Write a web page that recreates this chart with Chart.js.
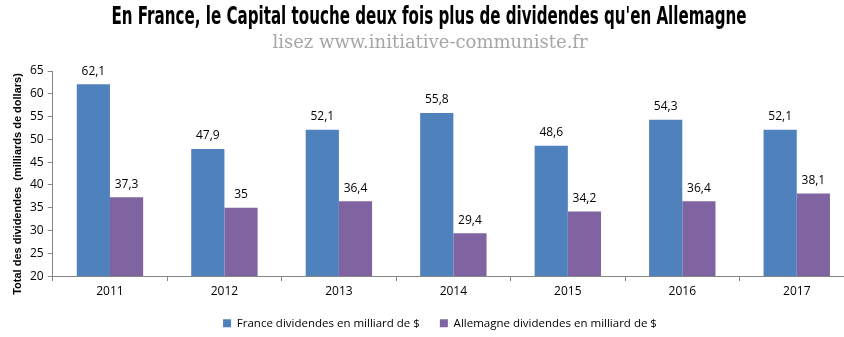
<!DOCTYPE html>
<html><head><meta charset="utf-8">
<script src="https://cdn.jsdelivr.net/npm/chart.js@4/dist/chart.umd.min.js"></script>
<style>
html,body{margin:0;padding:0;background:#fff;overflow:hidden;width:844px;height:337px;position:relative}
canvas{display:block;position:absolute;left:0;top:0}
#t{position:absolute;left:429px;top:2px;white-space:nowrap;z-index:2;font-family:"DejaVu Sans Condensed","DejaVu Sans",sans-serif;font-weight:bold;font-size:24px;line-height:28px;color:#000;transform:translateX(-50%) scaleX(0.70)}
#s{position:absolute;left:0;width:860px;top:31px;text-align:center;white-space:nowrap;font-family:"DejaVu Serif",serif;font-size:18px;line-height:22px;color:#a6a6a6;z-index:2}
</style>
</head><body>
<div id="t"></div>
<div id="s"></div>
<canvas id="c" width="860" height="337"></canvas>
<script>
const years = ['2011','2012','2013','2014','2015','2016','2017'];
const france = [62.1, 47.9, 52.1, 55.8, 48.6, 54.3, 52.1];
const allemagne = [37.3, 35, 36.4, 29.4, 34.2, 36.4, 38.1];
const franceLabel = 'France dividendes en milliard de $';
const allemagneLabel = 'Allemagne dividendes en milliard de $';
const titleText = "En France, le Capital touche deux fois plus de dividendes qu'en Allemagne";
const subtitleText = 'lisez www.initiative-communiste.fr';
const yTitle = 'Total des dividendes  (milliards de dollars)';

document.getElementById('t').textContent = titleText;
document.getElementById('s').textContent = subtitleText;

const labelPlugin = {
  id: 'valueLabels',
  afterDatasetsDraw(chart) {
    const ctx = chart.ctx;
    ctx.save();
    ctx.font = '12px "Open Sans", sans-serif';
    ctx.fillStyle = '#000';
    ctx.textAlign = 'center';
    ctx.textBaseline = 'middle';
    chart.data.datasets.forEach((ds, i) => {
      chart.getDatasetMeta(i).data.forEach((bar, j) => {
        ctx.fillText(String(ds.data[j]).replace('.', ','), bar.x, bar.y - 13);
      });
    });
    ctx.restore();
  }
};

const yTitlePlugin = {
  id: 'yTitle',
  afterDraw(chart) {
    const ctx = chart.ctx;
    ctx.save();
    ctx.translate(18, 184);
    ctx.rotate(-Math.PI / 2);
    ctx.font = 'bold 11px "Liberation Sans", sans-serif';
    ctx.fillStyle = '#000';
    ctx.textAlign = 'center';
    ctx.textBaseline = 'middle';
    ctx.fillText(yTitle, 0, 0);
    ctx.restore();
  }
};

const legendShift = {
  id: 'legendShift',
  afterLayout(chart) {
    const lg = chart.legend;
    if (lg) { lg.top -= 4; lg.bottom -= 4; }
  }
};

new Chart(document.getElementById('c'), {
  type: 'bar',
  data: {
    labels: years,
    datasets: [
      {label: franceLabel, data: france, backgroundColor: '#4F81BD', categoryPercentage: 0.58, barPercentage: 1},
      {label: allemagneLabel, data: allemagne, backgroundColor: '#8064A2', categoryPercentage: 0.58, barPercentage: 1}
    ]
  },
  options: {
    responsive: false,
    animation: false,
    layout: {padding: {left: 26, right: 6, top: 71, bottom: -6}},
    plugins: {
      title: {display: false},
      legend: {position: 'bottom',
        labels: {boxWidth: 8, boxHeight: 8, color: '#000', padding: 20,
          font: {family: '"Open Sans", sans-serif', size: 11.5}}},
      tooltip: {enabled: false}
    },
    scales: {
      x: {
        offset: true,
        grid: {offset: true, drawOnChartArea: false, tickLength: 5, color: '#868686'},
        border: {color: '#868686'},
        ticks: {color: '#000', font: {family: '"Open Sans", sans-serif', size: 12}, padding: 3}
      },
      y: {
        min: 20, max: 65,
        grid: {drawOnChartArea: false, tickLength: 5, color: '#868686'},
        border: {color: '#868686'},
        ticks: {stepSize: 5, color: '#000', font: {family: '"Open Sans", sans-serif', size: 12}, padding: 4}
      }
    }
  },
  plugins: [labelPlugin, yTitlePlugin, legendShift]
});
</script>
</body></html>
